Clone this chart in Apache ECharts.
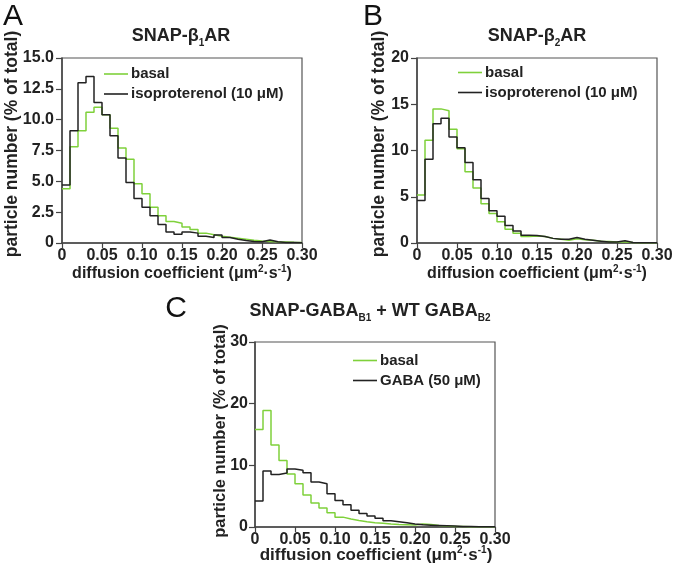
<!DOCTYPE html>
<html>
<head>
<meta charset="utf-8">
<script src="https://cdn.jsdelivr.net/npm/echarts@6/dist/echarts.min.js"></script>
<style>
html,body{margin:0;padding:0;background:#fff;}
#chart{width:677px;height:569px;}
</style>
</head>
<body>
<div id="chart"></div>
<script>
// Bin start positions (diffusion coefficient, µm²·s⁻¹)
const binStart = [0, 0.01, 0.02, 0.03, 0.04, 0.05, 0.06, 0.07, 0.08, 0.09,
  0.10, 0.11, 0.12, 0.13, 0.14, 0.15, 0.16, 0.17, 0.18, 0.19,
  0.20, 0.21, 0.22, 0.23, 0.24, 0.25, 0.26, 0.27, 0.28, 0.29];
const binEnd = 0.30;

// Panel A: SNAP-β1AR
const aBasal = [4.4, 7.8, 9.1, 10.6, 11.0, 10.4, 9.3, 7.7, 6.8, 4.8,
  4.0, 2.9, 2.2, 1.75, 1.6, 1.3, 1.1, 0.8, 0.67, 0.54,
  0.46, 0.38, 0.3, 0.22, 0.16, 0.13, 0.1, 0.08, 0.06, 0.05];
const aIso = [4.7, 9.1, 13.0, 13.5, 11.4, 10.4, 8.7, 6.9, 4.9, 3.6,
  2.9, 2.2, 1.5, 0.9, 0.7, 0.9, 0.8, 0.55, 0.45, 0.65,
  0.45, 0.3, 0.2, 0.12, 0.1, 0.25, 0.1, 0.05, 0.04, 0.03];

// Panel B: SNAP-β2AR
const bBasal = [5.2, 11.1, 14.5, 14.3, 12.3, 10.2, 7.7, 5.95, 4.25, 3.2,
  2.3, 1.5, 1.05, 0.7, 0.75, 0.7, 0.5, 0.4, 0.3, 0.45,
  0.35, 0.3, 0.2, 0.15, 0.1, 0.1, 0.05, 0.04, 0.03, 0.02];
const bIso = [4.6, 9.05, 12.9, 13.5, 11.45, 10.3, 8.7, 6.85, 4.8, 3.5,
  2.9, 1.9, 1.3, 0.85, 0.8, 0.7, 0.5, 0.4, 0.4, 0.6,
  0.4, 0.3, 0.2, 0.1, 0.1, 0.25, 0.05, 0.04, 0.03, 0.02];

// Panel C: SNAP-GABAB1 + WT GABAB2
const cBasal = [15.8, 18.9, 13.3, 10.8, 8.6, 7.0, 5.2, 3.9, 3.1, 2.3,
  1.6, 1.3, 1.05, 0.85, 0.7, 0.6, 0.5, 0.42, 0.38, 0.32,
  0.5, 0.42, 0.25, 0.15, 0.1, 0.08, 0.06, 0.05, 0.04, 0.03];
const cGaba = [4.2, 9.1, 8.5, 8.75, 9.4, 9.2, 8.8, 7.3, 7.0, 5.4,
  4.3, 3.6, 2.7, 2.2, 1.8, 1.4, 1.0, 0.85, 0.7, 0.5,
  0.35, 0.3, 0.25, 0.2, 0.15, 0.1, 0.08, 0.06, 0.05, 0.04];

const xTicks = [0, 0.05, 0.10, 0.15, 0.20, 0.25, 0.30];
const yMaxA = 15, yStepA = 2.5;
const yMaxB = 20, yStepB = 5;
const yMaxC = 30, yStepC = 10;

const nameBasal = 'basal';
const nameIso = 'isoproterenol (10 μM)';
const nameGaba = 'GABA (50 μM)';

const GREEN = '#7fd13b';
const BLACK = '#222222';
const AXIS = '#444444';
const FONT = '"Liberation Sans", Arial, Helvetica, sans-serif';

function steps(vals) {
  const d = binStart.map((x, i) => [x, vals[i]]);
  d.push([binEnd, vals[vals.length - 1]]);
  return d;
}

const grids = [
  {left: 62, top: 58, width: 240, height: 185},
  {left: 417, top: 58, width: 240, height: 185},
  {left: 255, top: 342, width: 240, height: 185}
].map(g => Object.assign({show: true, borderColor: '#555', borderWidth: 1.2, containLabel: false}, g));

function xAxis(i) {
  return {
    type: 'value', gridIndex: i, min: 0, max: 0.3, interval: 0.05,
    axisLine: {show: true, lineStyle: {color: AXIS, width: 1.5}},
    axisTick: {show: true, length: 5, lineStyle: {color: AXIS, width: 1.2}},
    splitLine: {show: false},
    axisLabel: {
      margin: 5, fontSize: 16, fontWeight: 'bold', color: BLACK, fontFamily: FONT,
      formatter: v => (Math.abs(v) < 1e-9 ? '0' : v.toFixed(2))
    }
  };
}
function yAxis(i, max, step, dec, margin) {
  return {
    type: 'value', gridIndex: i, min: 0, max: max, interval: step,
    axisLine: {show: true, lineStyle: {color: AXIS, width: 1.5}},
    axisTick: {show: true, length: 6, lineStyle: {color: AXIS, width: 1.2}},
    splitLine: {show: false},
    axisLabel: {
      margin: margin, fontSize: 16, fontWeight: 'bold', color: BLACK, fontFamily: FONT,
      formatter: v => (v === 0 ? '0' : v.toFixed(dec))
    }
  };
}
function line(name, vals, color, i) {
  return {
    type: 'line', name: name, step: 'end', symbol: 'none', xAxisIndex: i, yAxisIndex: i,
    data: steps(vals), itemStyle: {color: color},
    lineStyle: {color: color, width: 1.5}, animation: false, silent: true
  };
}
function legend(left, top, names) {
  return {
    left: left, top: top, orient: 'vertical', icon: 'rect', itemWidth: 24, itemHeight: 1.6,
    itemGap: 5, selectedMode: false, padding: 0,
    textStyle: {fontSize: 15, fontWeight: 'bold', color: BLACK, fontFamily: FONT, padding: [0, 0, 0, -2]},
    data: names
  };
}

const mainRich = {
  t: {fontSize: 18, fontWeight: 'bold', fontFamily: FONT, fill: BLACK, lineHeight: 24},
  s: {fontSize: 10, fontWeight: 'bold', fontFamily: FONT, fill: BLACK, lineHeight: 10, verticalAlign: 'bottom'}
};
function nameRich(size) {
  return {
    n: {fontSize: size, fontWeight: 'bold', fontFamily: FONT, fill: BLACK, lineHeight: 20},
    p: {fontSize: 10, fontWeight: 'bold', fontFamily: FONT, fill: BLACK, lineHeight: 10, verticalAlign: 'top'}
  };
}

function txt(x, y, text, rich, rot) {
  return {
    type: 'text', x: x, y: y, rotation: rot || 0, silent: true,
    style: {text: text, rich: rich, align: 'center', verticalAlign: 'middle'}
  };
}
function letter(x, y, s) {
  return {
    type: 'text', x: x, y: y, silent: true,
    style: {text: s, font: '30px ' + FONT, fill: '#111', align: 'center', verticalAlign: 'middle'}
  };
}
const yName = '{n|particle number (% of total)}';
const xName = '{n|diffusion coefficient (μm}{p|2}{n|·s}{p|-1}{n|)}';

const option = {
  backgroundColor: '#fff',
  animation: false,
  grid: grids,
  xAxis: [xAxis(0), xAxis(1), xAxis(2)],
  yAxis: [yAxis(0, yMaxA, yStepA, 1, 8), yAxis(1, yMaxB, yStepB, 0, 8), yAxis(2, yMaxC, yStepC, 0, 7)],
  legend: [
    legend(104, 66.5, [nameBasal, nameIso]),
    legend(458, 65, [nameBasal, nameIso]),
    legend(353, 353, [nameBasal, nameGaba])
  ],
  series: [
    line(nameBasal, aBasal, GREEN, 0), line(nameIso, aIso, BLACK, 0),
    line(nameBasal, bBasal, GREEN, 1), line(nameIso, bIso, BLACK, 1),
    line(nameBasal, cBasal, GREEN, 2), line(nameGaba, cGaba, BLACK, 2)
  ],
  graphic: [
    letter(13, 17, 'A'), letter(373, 17, 'B'), letter(176, 309, 'C'),
    txt(181, 36, '{t|SNAP-β}{s|1}{t|AR}', mainRich),
    txt(537, 36, '{t|SNAP-β}{s|2}{t|AR}', mainRich),
    txt(370, 311, '{t|SNAP-GABA}{s|B1}{t| + WT GABA}{s|B2}', mainRich),
    txt(12, 144, yName, nameRich(17.5), Math.PI / 2),
    txt(379, 144, yName, nameRich(17.5), Math.PI / 2),
    txt(220, 431, yName, nameRich(16.5), Math.PI / 2),
    txt(182, 274, xName, nameRich(16)),
    txt(537, 274, xName, nameRich(16)),
    txt(376, 555, xName, nameRich(17))
  ]
};

const chart = echarts.init(document.getElementById('chart'), null, {renderer: 'canvas'});
chart.setOption(option);
</script>
</body>
</html>
